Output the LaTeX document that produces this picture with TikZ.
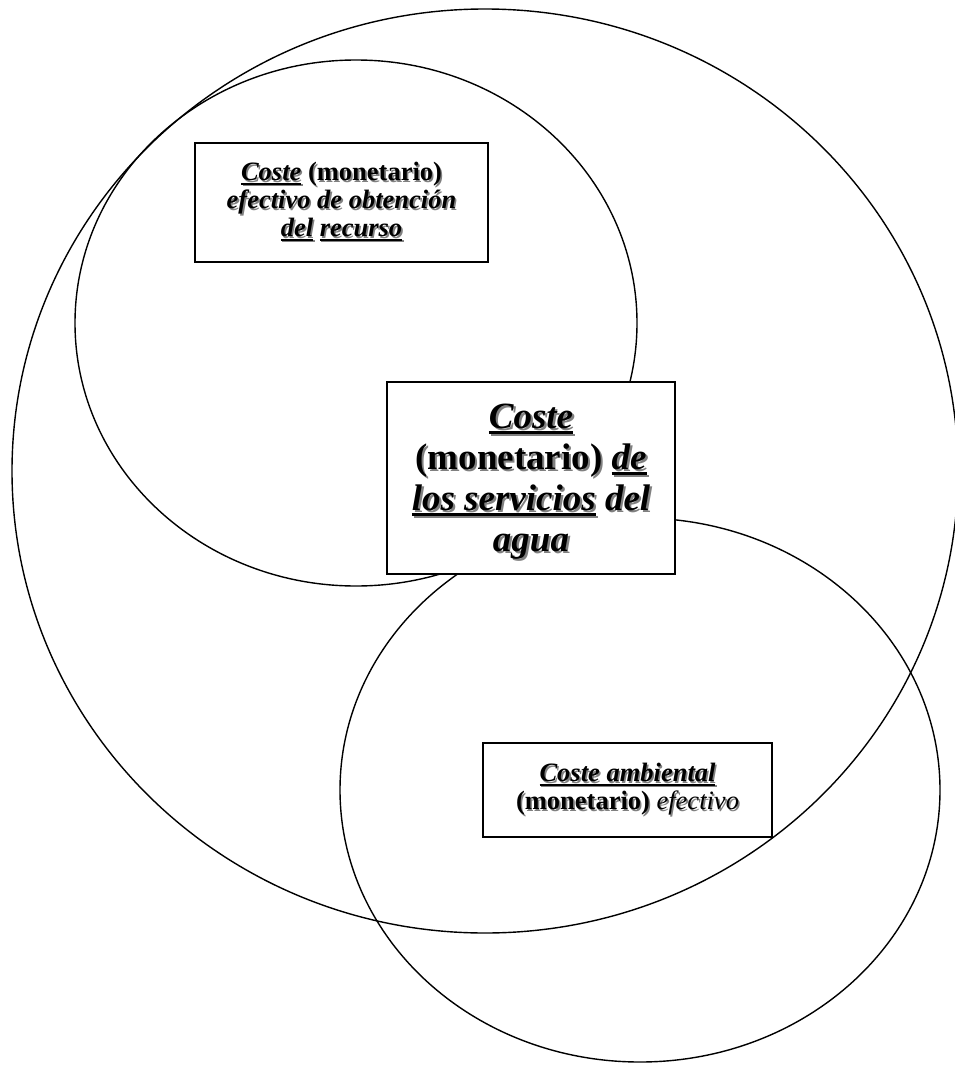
\documentclass[tikz,border=0pt]{standalone}
\usepackage{fontspec}
\setmainfont{Liberation Serif}

% embossed text: a grey copy slightly offset behind the black one
\newcommand\shd[1]{\leavevmode\rlap{\raisebox{-0.06em}{\hspace{0.06em}\color{black!50}#1}}#1}
% thick underline
\newcommand\uln[1]{\setbox0\hbox{#1}\rlap{\rule[-0.15em]{\wd0}{0.075em}}\box0\relax}

\tikzset{
  setline/.style={draw=black, line width=1.4pt},
  costbox/.style={draw=black, line width=1.4pt, fill=white, rectangle, inner sep=0pt},
  costtext/.style={align=center, inner sep=0pt},
  smalltext/.style={costtext, font=\fontsize{26.5}{28}\selectfont\bfseries},
  bigtext/.style={costtext, font=\fontsize{37}{41}\selectfont\bfseries}
}

\begin{document}
\begin{tikzpicture}[x=1pt, y=-1pt]
  \useasboundingbox (0,0) rectangle (955,1065);
  \fill[white] (0,0) rectangle (955,1065);

  % the three cost sets
  \draw[setline] (485,471) ellipse [x radius=473pt, y radius=462pt];
  \draw[setline] (356,323) ellipse [x radius=281pt, y radius=263pt];
  \draw[setline] (640,790) ellipse [x radius=300pt, y radius=272pt];

  % label frames
  \node[costbox, minimum width=293pt, minimum height=119pt] (obtencion) at (341.5,202.5) {};
  \node[costbox, minimum width=288pt, minimum height=192pt] (servicios) at (531,478) {};
  \node[costbox, minimum width=289pt, minimum height=94pt] (ambiental) at (627.5,790) {};

  % label texts
  \node[smalltext] (obtenciontext) at (obtencion.center)
    {\shd{\uln{\textit{Coste}} (monetario)}\\
     \shd{\textit{efectivo de obtención}}\\
     \shd{\uln{\textit{del}} \uln{\textit{recurso}}}};

  \node[bigtext, yshift=-5pt] (serviciostext) at (servicios.center)
    {\shd{\uln{\textit{Coste}}}\\
     \shd{(monetario) \uln{\textit{de}}}\\
     \shd{\uln{\textit{los servicios}} \textit{del}}\\
     \shd{\textit{agua}}};

  \node[smalltext] (ambientaltext) at (ambiental.center)
    {\shd{\uln{\textit{Coste ambiental}}}\\
     \shd{(monetario) {\mdseries\textit{efectivo}}}};
\end{tikzpicture}
\end{document}
